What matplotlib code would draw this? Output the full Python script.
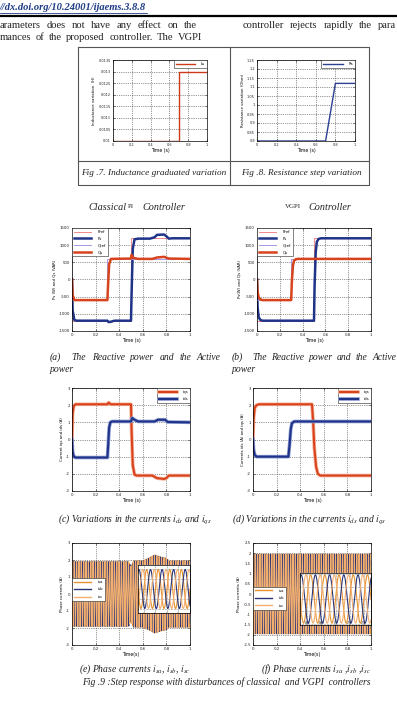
import numpy as np
import matplotlib
matplotlib.use('Agg')
import matplotlib.pyplot as plt
import matplotlib.patheffects as pe

plt.rcParams['mathtext.fontset'] = 'stix'
plt.rcParams['font.family'] = ['DejaVu Sans']

# ---------------- data ----------------
time_ticks = [0, 0.2, 0.4, 0.6, 0.8, 1]
time_ticklabels = ['0', '0.2', '0.4', '0.6', '0.8', '1']

# Fig 7 : inductance
t_ls = [0, 0.7, 0.7, 1.0]
ls_val = [0.01, 0.01, 0.013, 0.013]
ls_ticks = [0.01, 0.0105, 0.011, 0.0115, 0.012, 0.0125, 0.013, 0.0135]
ls_ticklabels = ['0.01', '0.0105', '0.011', '0.0115', '0.012', '0.0125', '0.013', '0.0135']

# Fig 8 : resistance
t_rs = [0, 0.7, 0.8, 1.0]
rs_val = [0.8, 0.8, 1.12, 1.12]
rs_ticks = [0.8, 0.85, 0.9, 0.95, 1.0, 1.05, 1.1, 1.15, 1.2, 1.25]
rs_ticklabels = ['0.8', '0.85', '0.9', '0.95', '1', '1.05', '1.1', '1.15', '1.2', '1.25']

# Fig 9 (a,b) powers
t_pref = [0, 0.5, 0.5, 1.0]
pref = [-1200, -1200, 1200, 1200]
t_qref = [0, 0.3, 0.3, 1.0]
qref = [-600, -600, 600, 600]

t_ps_pi = [0, 0.005, 0.02, 0.04, 0.3, 0.31, 0.33, 0.36, 0.5, 0.505, 0.515, 0.53, 0.56,
           0.66, 0.7, 0.72, 0.78, 0.8, 0.82, 0.85, 1.0]
ps_pi = [0, -900, -1180, -1200, -1200, -1240, -1230, -1200, -1200, -400, 900, 1170, 1190,
         1190, 1230, 1300, 1310, 1260, 1190, 1200, 1200]
t_qs_pi = [0, 0.005, 0.02, 0.3, 0.305, 0.315, 0.33, 0.5, 0.505, 0.52, 0.56, 0.68, 0.72,
           0.78, 0.82, 1.0]
qs_pi = [0, -450, -600, -600, -200, 450, 600, 610, 720, 630, 600, 600, 640, 660, 610, 600]

t_ps_vg = [0, 0.005, 0.015, 0.03, 0.05, 0.5, 0.505, 0.515, 0.525, 0.54, 0.56, 1.0]
ps_vg = [0, -800, -1100, -1180, -1200, -1200, -200, 800, 1100, 1180, 1200, 1200]
t_qs_vg = [0, 0.005, 0.015, 0.03, 0.05, 0.3, 0.305, 0.315, 0.325, 0.34, 0.36, 1.0]
qs_vg = [0, -350, -520, -580, -600, -600, -100, 400, 550, 590, 600, 600]
pow_ticks = [-1500, -1000, -500, 0, 500, 1000, 1500]
pow_ticklabels = ['-1500', '-1000', '-500', '0', '500', '1000', '1500']

# Fig 9 (c,d) currents
t_iq_pi = [0, 0.005, 0.015, 0.03, 0.3, 0.31, 0.33, 0.5, 0.505, 0.515, 0.53, 0.55, 0.68,
           0.72, 0.78, 0.8, 0.82, 1.0]
iq_pi = [0, 1.5, 1.95, 2.05, 2.05, 2.15, 2.05, 2.05, 0.5, -1.5, -2.05, -2.1, -2.1,
         -2.25, -2.3, -2.25, -2.1, -2.1]
t_id_pi = [0, 0.005, 0.015, 0.03, 0.3, 0.305, 0.315, 0.325, 0.34, 0.5, 0.51, 0.53, 0.56,
           0.7, 0.73, 0.79, 0.81, 1.0]
id_pi = [0, -0.7, -1.0, -1.05, -1.05, -0.5, 0.7, 1.0, 1.05, 1.05, 1.25, 1.15, 1.05,
         1.05, 1.15, 1.15, 1.02, 1.0]
t_iq_vg = [0, 0.005, 0.015, 0.03, 0.05, 0.5, 0.51, 0.52, 0.535, 0.55, 0.57, 1.0]
iq_vg = [0, 1.2, 1.85, 2.0, 2.05, 2.05, 1.0, -0.5, -1.6, -2.0, -2.1, -2.1]
t_id_vg = [0, 0.005, 0.015, 0.03, 0.3, 0.31, 0.32, 0.33, 0.35, 1.0]
id_vg = [0, -0.6, -0.9, -1.0, -1.0, -0.3, 0.6, 0.95, 1.05, 1.05]
cur_ticks = [-3, -2, -1, 0, 1, 2, 3]
cur_ticklabels = ['-3', '-2', '-1', '0', '1', '2', '3']

# Fig 9 (e,f) phase currents: supply frequency and amplitude envelope
phase_freq = 50.0
env_t_pi = [0, 0.48, 0.5, 0.52, 0.6, 0.65, 0.7, 0.74, 0.8, 0.82, 1.0]
env_a_pi = [1.9, 1.9, 1.6, 1.95, 1.95, 2.1, 2.3, 2.2, 2.1, 1.95, 1.95]
env_t_vg = [0, 1.0]
env_a_vg = [1.95, 1.95]
ph_ticks_e = [-3, -2, -1, 0, 1, 2, 3]
ph_ticklabels_e = ['-3', '-2', '-1', '0', '1', '2', '3']
ph_ticks_f = [-2.5, -2, -1.5, -1, -0.5, 0, 0.5, 1, 1.5, 2, 2.5]
ph_ticklabels_f = ['-2.5', '-2', '-1.5', '-1', '-0.5', '0', '0.5', '1', '1.5', '2', '2.5']

# ---------------- colours ----------------
RED = '#d8431e'
NAVY = '#1f3489'
PREF_C = '#f08a8a'
QREF_C = '#a39ae6'
ISA_C = '#e5922f'
ISB_C = '#2a3578'
ISC_C = '#f3b070'
TXT = '#222222'

# ---------------- figure ----------------
W, H = 397, 709
fig = plt.figure(figsize=(W / 100, H / 100), dpi=100)
bg = fig.add_axes([0, 0, 1, 1])
bg.set_xlim(0, W)
bg.set_ylim(H, 0)
bg.axis('off')
SERIF = 'Liberation Serif'


def px_axes(x0, y0, x1, y1):
    return fig.add_axes([x0 / W, 1 - y1 / H, (x1 - x0) / W, (y1 - y0) / H])


def style(ax, yt, ytl, ylab, ylim, xlab='Time (s)'):
    ax.set_xlim(0, 1)
    ax.set_ylim(*ylim)
    ax.set_xticks(time_ticks)
    ax.set_xticklabels(time_ticklabels)
    ax.set_yticks(yt)
    ax.set_yticklabels(ytl)
    ax.grid(True, ls=':', lw=0.5, color='#333333')
    ax.tick_params(direction='in', length=1.5, width=0.4, labelsize=2.8, pad=1.5,
                   top=True, right=True, colors='#222222')
    for s in ax.spines.values():
        s.set_linewidth(0.5)
    ax.set_ylabel(ylab, fontsize=2.8, labelpad=1.5)
    ax.set_xlabel(xlab, fontsize=3.3, labelpad=1)


def small_legend(ax, loc, **kw):
    opts = dict(loc=loc, fontsize=2.8, frameon=True, fancybox=False, framealpha=1,
                edgecolor='#222222', borderaxespad=0, borderpad=0.5,
                handlelength=4.5, labelspacing=0.9, handletextpad=1.5)
    opts.update(kw)
    leg = ax.legend(**opts)
    leg.get_frame().set_linewidth(0.4)
    return leg


renderer = fig.canvas.get_renderer()


def justify(words, x0, x1, y, **kw):
    texts = [bg.text(0, y, w, va='center', ha='left', **kw) for w in words]
    widths = [t.get_window_extent(renderer).width for t in texts]
    gap = (x1 - x0 - sum(widths)) / max(len(words) - 1, 1)
    x = x0
    for t, w in zip(texts, widths):
        t.set_x(x)
        x += w + gap


# ---------------- page text ----------------
bg.text(0, 8, '//dx.doi.org/10.24001/ijaems.3.8.8', fontsize=7.6, fontweight='bold',
        style='italic', color='#1f3c88', family=SERIF, va='center', ha='left')
bg.plot([0, 147], [13, 13], color='#1f3c88', lw=0.6)
bg.plot([0, W], [16.3, 16.3], color='black', lw=1.6, solid_capstyle='butt')

body_kw = dict(fontsize=7.6, family=SERIF, color=TXT)
justify('arameters does not have any effect on the'.split(), 0, 197, 25, **body_kw)
justify('mances of the proposed controller. The VGPI'.split(), 0, 202, 37, **body_kw)
justify('controller rejects rapidly the para'.split(), 243, 396, 25, **body_kw)

# table box for Fig 7 / Fig 8
box_c = '#555555'
bg.plot([78, 369, 369, 78, 78], [47, 47, 185, 185, 47], color=box_c, lw=0.8)
bg.plot([78, 369], [161, 161], color=box_c, lw=0.8)
bg.plot([230, 230], [47, 185], color=box_c, lw=0.8)

cap_kw = dict(fontsize=6.7, family=SERIF, style='italic', color=TXT, va='center')
bg.text(154, 173, 'Fig .7. Inductance graduated variation', ha='center', **cap_kw)
bg.text(301, 173, 'Fig .8. Resistance step variation', ha='center', **cap_kw)

# column titles
tk = dict(fontsize=7.3, family=SERIF, style='italic', color=TXT, va='center')
bg.text(88, 207, 'Classical', ha='left', **tk)
bg.text(128, 207, 'PI', ha='left', fontsize=5, family=SERIF, color=TXT, va='center')
bg.text(142, 207, 'Controller', ha='left', **tk)
bg.text(285, 207, 'VGPI', ha='left', fontsize=5, family=SERIF, color=TXT, va='center')
bg.text(308, 207, 'Controller', ha='left', **tk)

sub_kw = dict(fontsize=6.9, family=SERIF, style='italic', color=TXT)
justify('(a)  The Reactive power and the Active'.split(' '), 50, 220, 357, **sub_kw)
bg.text(50, 369, 'power', va='center', ha='left', **sub_kw)
justify('(b)  The Reactive power and the Active'.split(' '), 232, 396, 357, **sub_kw)
bg.text(232, 369, 'power', va='center', ha='left', **sub_kw)

bg.text(58, 519, r'(c) Variations in the currents $i_{ds}$ and $i_{qs}$', va='center', ha='left', **sub_kw)
bg.text(232, 519, r'(d) Variations in the currents $i_{ds}$ and $i_{qs}$', va='center', ha='left', **sub_kw)
bg.text(135, 669, r'(e) Phase currents $i_{sa}$, $i_{sb}$, $i_{sc}$', va='center', ha='center', **sub_kw)
bg.text(316, 669, r'(f) Phase currents $i_{sa}$ ,$i_{sb}$ ,$i_{sc}$', va='center', ha='center', **sub_kw)
bg.text(226, 682, 'Fig .9 :Step response with disturbances of classical  and VGPI  controllers',
        va='center', ha='center', **sub_kw)

# ---------------- Fig 7 ----------------
ax7 = px_axes(113, 60, 207, 141)
ax7.plot(t_ls, ls_val, color='#cc3a1a', lw=1.0, label='Ls')
style(ax7, ls_ticks, ls_ticklabels, 'Inductance variation  (H)', (0.01, 0.0135))
ax7.tick_params(labelsize=2.5)
small_legend(ax7, 'upper right', handlelength=5)

# ---------------- Fig 8 ----------------
ax8 = px_axes(257, 60, 355, 141)
ax8.plot(t_rs, rs_val, color='#2b3f93', lw=1.0, label='Rs')
style(ax8, rs_ticks, rs_ticklabels, 'Resistance variation (Ohm)', (0.8, 1.25))
ax8.tick_params(labelsize=2.5)
small_legend(ax8, 'upper right', handlelength=5)

# ---------------- Fig 9a ----------------
halo = [pe.Stroke(linewidth=2.6, foreground='#f5b49a'), pe.Normal()]
halo_b = [pe.Stroke(linewidth=2.6, foreground='#8d9ad0'), pe.Normal()]

ax = px_axes(72, 228, 190, 331)
ax.plot(t_pref, pref, color=PREF_C, lw=0.7, label='Pref')
ax.plot(t_ps_pi, ps_pi, color=NAVY, lw=1.8, label='Ps')
ax.plot(t_qref, qref, color=QREF_C, lw=0.7, label='Qref')
ax.plot(t_qs_pi, qs_pi, color=RED, lw=1.8, label='Qs')
style(ax, pow_ticks, pow_ticklabels, 'Ps (W) and Qs (VAR)', (-1500, 1500))
small_legend(ax, 'upper left', labelspacing=0.7)

# ---------------- Fig 9b ----------------
ax = px_axes(257, 228, 371, 331)
ax.plot(t_pref, pref, color=PREF_C, lw=0.7, label='Pref')
ax.plot(t_ps_vg, ps_vg, color=NAVY, lw=1.8, label='Ps')
ax.plot(t_qref, qref, color=QREF_C, lw=0.7, label='Qref')
ax.plot(t_qs_vg, qs_vg, color=RED, lw=1.8, label='Qs')
style(ax, pow_ticks, pow_ticklabels, 'Ps(W) and Qs (VAR)', (-1500, 1500))
small_legend(ax, 'upper left', labelspacing=0.7)

# ---------------- Fig 9c ----------------
ax = px_axes(72, 388, 190, 491)
ax.plot(t_iq_pi, iq_pi, color=RED, lw=1.5, label='iqs', path_effects=halo)
ax.plot(t_id_pi, id_pi, color=NAVY, lw=1.5, label='ids', path_effects=halo_b)
style(ax, cur_ticks, cur_ticklabels, 'Current iqs and ids (A)', (-3, 3))
small_legend(ax, 'upper right', labelspacing=0.9)

# ---------------- Fig 9d ----------------
ax = px_axes(253, 388, 371, 491)
ax.plot(t_iq_vg, iq_vg, color=RED, lw=1.5, label='iqs', path_effects=halo)
ax.plot(t_id_vg, id_vg, color=NAVY, lw=1.5, label='ids', path_effects=halo_b)
style(ax, cur_ticks, cur_ticklabels, 'Currents ids (A) and iqs (A)', (-3, 3))
small_legend(ax, 'upper right', labelspacing=0.9)

# ---------------- Fig 9e / 9f phase currents ----------------
t_ph = np.linspace(0, 1, 40001)
theta = 2 * np.pi * phase_freq * t_ph


def phase_set(env_t, env_a):
    env = np.interp(t_ph, env_t, env_a)
    return (env * np.sin(theta), env * np.sin(theta - 2 * np.pi / 3),
            env * np.sin(theta + 2 * np.pi / 3))


def phase_plot(ax, currents, lw):
    isa, isb, isc = currents
    ax.plot(t_ph, isa, color=ISA_C, lw=lw, label='isa')
    ax.plot(t_ph, isb, color=ISB_C, lw=lw, label='isb')
    ax.plot(t_ph, isc, color=ISC_C, lw=lw, label='isc')


cur_pi = phase_set(env_t_pi, env_a_pi)
cur_vg = phase_set(env_t_vg, env_a_vg)

ax = px_axes(72, 543, 190, 645)
phase_plot(ax, cur_pi, 0.75)
style(ax, ph_ticks_e, ph_ticklabels_e, 'Phase currents (A)', (-3, 3), xlab='Time(s)')
leg = small_legend(ax, 'center left', labelspacing=0.9, bbox_to_anchor=(0, 0.545))
for l in leg.get_lines():
    l.set_linewidth(1.0)
ins = px_axes(138, 565, 190, 613)
phase_plot(ins, cur_pi, 0.8)
ins.set_xlim(0.85, 0.94)
ins.set_ylim(-2.4, 2.4)
ins.grid(True, ls=':', lw=0.4, color='#333333')
ins.tick_params(direction='in', length=1, width=0.3, labelsize=1.8, pad=-3)
ins.set_xticks([0.86, 0.88, 0.9, 0.92])
ins.set_xticklabels([])
ins.set_yticks([-2, -1, 0, 1, 2])
ins.set_yticklabels([])
for s in ins.spines.values():
    s.set_linewidth(0.5)

ax = px_axes(253, 543, 371, 645)
phase_plot(ax, cur_vg, 0.75)
style(ax, ph_ticks_f, ph_ticklabels_f, 'Phase currents (A)', (-2.5, 2.5), xlab='Time(s)')
leg = small_legend(ax, 'center left', labelspacing=0.9, bbox_to_anchor=(0, 0.46))
for l in leg.get_lines():
    l.set_linewidth(1.0)
ins = px_axes(300, 573, 371, 625)
phase_plot(ins, cur_vg, 0.8)
ins.set_xlim(0.85, 0.95)
ins.set_ylim(-2.1, 2.1)
ins.grid(True, ls=':', lw=0.4, color='#333333')
ins.tick_params(direction='in', length=1, width=0.3, labelsize=1.8, pad=-3)
ins.set_xticks([0.86, 0.88, 0.9, 0.92, 0.94])
ins.set_xticklabels(['0.86', '0.88', '0.9', '0.92', '0.94'])
ins.set_yticks([-2, -1, 0, 1, 2])
ins.set_yticklabels([])
for s in ins.spines.values():
    s.set_linewidth(0.5)

fig.savefig('out.png', dpi=100)
